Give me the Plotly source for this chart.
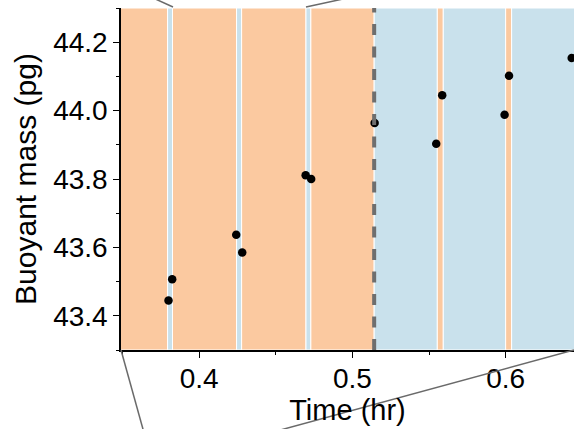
import plotly.graph_objects as go

# Data
time_hr = [0.3800, 0.3824, 0.4242, 0.4281, 0.4695, 0.4731, 0.5145,
           0.5547, 0.5586, 0.5993, 0.6022, 0.6431]
mass_pg = [43.445, 43.507, 43.637, 43.585, 43.811, 43.800, 43.964,
           43.903, 44.045, 43.988, 44.102, 44.154]

band_edges = [0.30, 0.3794, 0.3826, 0.4244, 0.4277, 0.4697, 0.4729,
              0.5142, 0.5554, 0.5593, 0.6000, 0.6039, 0.70]
band_kind = ["o", "b", "o", "b", "o", "b", "o", "b", "o", "b", "o", "b"]
switch_time = 0.5142

x_range = [0.349, 0.6446]
y_range = [43.3, 44.3]
x_ticks = [0.4, 0.5, 0.6]
y_ticks = [43.4, 43.6, 43.8, 44.0, 44.2]

colors = {"o": "#fbc9a0", "b": "#c9e1ec"}

fig = go.Figure()

shapes = []
for i, k in enumerate(band_kind):
    shapes.append(dict(type="rect", xref="x", yref="paper",
                       x0=band_edges[i], x1=band_edges[i + 1], y0=0, y1=1,
                       fillcolor=colors[k], line=dict(color="white", width=1),
                       layer="below"))
shapes.append(dict(type="line", xref="x", yref="paper", x0=switch_time, x1=switch_time,
                   y0=0, y1=1, line=dict(color="#6e6e6e", width=4, dash="11px,11.5px"),
                   layer="above"))
# zoom connector lines (paper coords)
W, H = 574 - 121, 350 - 8
def px(x):
    return (x - 121) / W
def py(y):
    return (350 - y) / H
for (xa, ya, xb, yb) in [(173, 7, 140, -8), (306, 7, 380, -9),
                         (121, 350, 146, 440), (574, 350, 240, 441)]:
    shapes.append(dict(type="line", xref="paper", yref="paper",
                       x0=px(xa), y0=py(ya), x1=px(xb), y1=py(yb),
                       line=dict(color="#6a6a6a", width=1.5), layer="above"))

fig.add_trace(go.Scatter(x=time_hr, y=mass_pg, mode="markers",
                         marker=dict(color="black", size=8.5), cliponaxis=False,
                         showlegend=False))

font = "'Liberation Sans', Arial, sans-serif"
fig.update_layout(
    width=574, height=429,
    margin=dict(l=121, r=0, t=8, b=79),
    paper_bgcolor="white", plot_bgcolor="white",
    shapes=shapes,
    font=dict(family=font, size=28, color="black"),
    xaxis=dict(range=x_range, tickvals=x_ticks, ticktext=[f"{v:.1f}" for v in x_ticks],
               ticks="outside", ticklen=6, tickwidth=1.2, tickcolor="black",
               showline=True, linecolor="black", linewidth=1.5, showgrid=False,
               zeroline=False, minor=dict(dtick=0.05, ticks="outside", ticklen=3.5,
                                          tickcolor="black", tickwidth=1.2, tick0=0.35),
               ticklabelstandoff=-3,
               title=dict(text="Time (hr)", font=dict(size=29), standoff=0),
               tickfont=dict(size=28)),
    yaxis=dict(range=y_range, tickvals=y_ticks, ticktext=[f"{v:.1f}" for v in y_ticks],
               ticks="outside", ticklen=6, tickwidth=1.2, tickcolor="black",
               showline=True, linecolor="black", linewidth=1.5, showgrid=False,
               zeroline=False, minor=dict(dtick=0.1, ticks="outside", ticklen=3.5,
                                          tickcolor="black", tickwidth=1.2, tick0=43.3),
               title=dict(text="Buoyant mass (pg)", font=dict(size=30), standoff=8),
               tickfont=dict(size=28)),
)

fig.write_html("out.html")
